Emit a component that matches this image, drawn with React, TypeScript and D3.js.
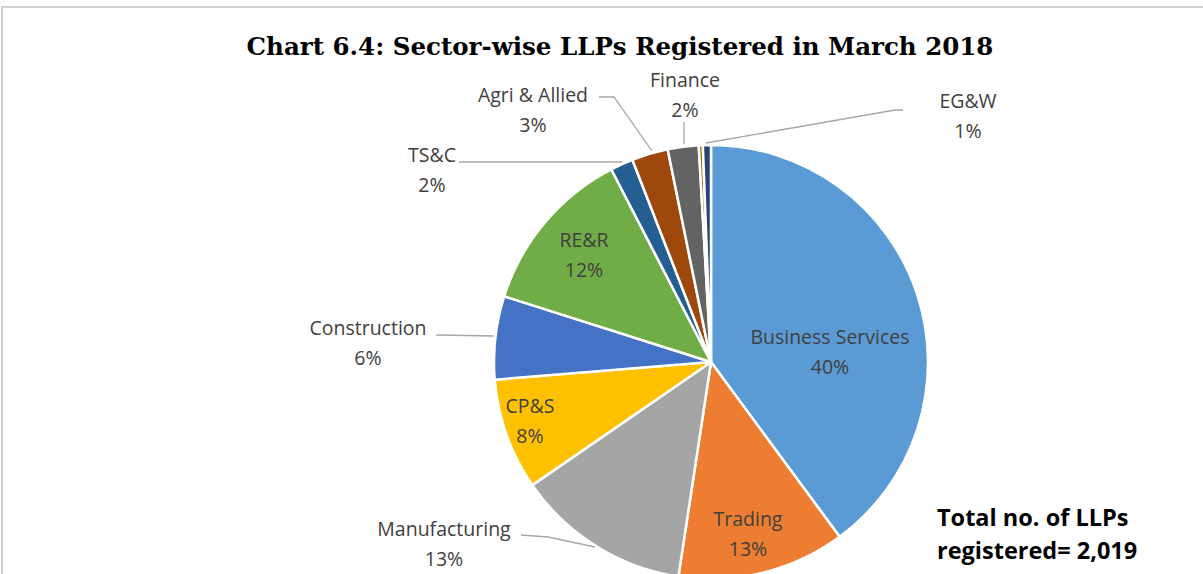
import * as d3 from 'd3';
import { useEffect, useRef } from 'react';

// sector shares (per cent of 2,019 LLPs), clockwise from 12 o'clock
const sectors = [
  'Business Services',
  'Trading',
  'Manufacturing',
  'CP&S',
  'Construction',
  'RE&R',
  'TS&C',
  'Agri & Allied',
  'Finance',
  'Others',
  'EG&W',
];
const shares = [39.9, 12.5, 13.0, 8.3, 6.2, 12.5, 1.7, 2.7, 2.3, 0.3, 0.6];
const pctLabels = ['40%', '13%', '13%', '8%', '6%', '12%', '2%', '3%', '2%', '', '1%'];
const colors = [
  '#5b9bd5', '#ed7d31', '#a5a5a5', '#ffc000', '#4472c4', '#70ad47',
  '#255e91', '#9e480e', '#636363', '#997300', '#264478',
];

const title = 'Chart 6.4: Sector-wise LLPs Registered in March 2018';
const totalLines = ['Total no. of LLPs', 'registered= 2,019'];

// label anchor (centre of the two-line label) and leader line path, by sector
const labelLayout: Record<string, { x: number; y: number; leader?: [number, number][] }> = {
  'Business Services': { x: 830, y: 352 },
  Trading: { x: 748, y: 534 },
  Manufacturing: { x: 444, y: 544, leader: [[521, 535], [548, 537], [595, 547]] },
  'CP&S': { x: 530, y: 421 },
  Construction: { x: 368, y: 343, leader: [[436, 335], [494, 336]] },
  'RE&R': { x: 584, y: 255 },
  'TS&C': { x: 432, y: 170, leader: [[459, 162], [622, 162]] },
  'Agri & Allied': { x: 533, y: 110, leader: [[599, 97], [614, 97], [652, 151]] },
  Finance: { x: 685, y: 95, leader: [[684, 122], [684, 144]] },
  'EG&W': { x: 968, y: 116, leader: [[903, 110], [895, 110], [706, 143]] },
};

export default function App() {
  const ref = useRef<SVGSVGElement>(null);
  const width = 1203;
  const height = 574;

  useEffect(() => {
    const svg = d3.select(ref.current);
    svg.selectAll('*').remove();

    // frame
    svg.append('rect').attr('width', width).attr('height', height).attr('fill', '#fff');
    svg.append('path')
      .attr('d', `M2,${height} L2,7 L${width},7`)
      .attr('fill', 'none')
      .attr('stroke', '#d0d0d0')
      .attr('stroke-width', 2);

    svg.append('text')
      .attr('x', 620)
      .attr('y', 55)
      .attr('text-anchor', 'middle')
      .style('font-family', '"DejaVu Serif", serif')
      .style('font-weight', 'bold')
      .style('font-size', '24.5px')
      .attr('fill', '#000')
      .text(title);

    const cx = 711;
    const cy = 362;
    const r = 217;

    const pie = d3.pie<number>().sort(null).value((d) => d);
    const arcs = pie(shares);
    const arc = d3.arc<d3.PieArcDatum<number>>().innerRadius(0).outerRadius(r);

    const g = svg.append('g').attr('transform', `translate(${cx},${cy})`);
    g.selectAll('path.slice')
      .data(arcs)
      .enter()
      .append('path')
      .attr('class', 'slice')
      .attr('d', arc)
      .attr('fill', (_, i) => colors[i])
      .attr('stroke', '#fff')
      .attr('stroke-width', 2.5)
      .attr('stroke-linejoin', 'round');

    const line = d3.line<[number, number]>();
    sectors.forEach((name, i) => {
      const lay = labelLayout[name];
      if (!lay) return;
      if (lay.leader) {
        svg.append('path')
          .attr('d', line(lay.leader))
          .attr('fill', 'none')
          .attr('stroke', '#a6a6a6')
          .attr('stroke-width', 1.3);
      }
      const t = svg.append('text')
        .attr('text-anchor', 'middle')
        .style('font-family', '"Open Sans", sans-serif')
        .style('font-size', '19.5px')
        .attr('fill', '#404040');
      t.append('tspan').attr('x', lay.x).attr('y', lay.y - 8).text(name);
      t.append('tspan').attr('x', lay.x).attr('y', lay.y + 22).text(pctLabels[i]);
    });

    const tot = svg.append('text')
      .style('font-family', '"Open Sans", sans-serif')
      .style('font-weight', 'bold')
      .style('font-size', '23.5px')
      .attr('fill', '#000');
    totalLines.forEach((s, i) => {
      tot.append('tspan').attr('x', 937).attr('y', 526 + i * 33).text(s);
    });
  }, []);

  return <svg ref={ref} width={width} height={height} style={{ position: 'absolute', left: 0, top: 0 }} />;
}
